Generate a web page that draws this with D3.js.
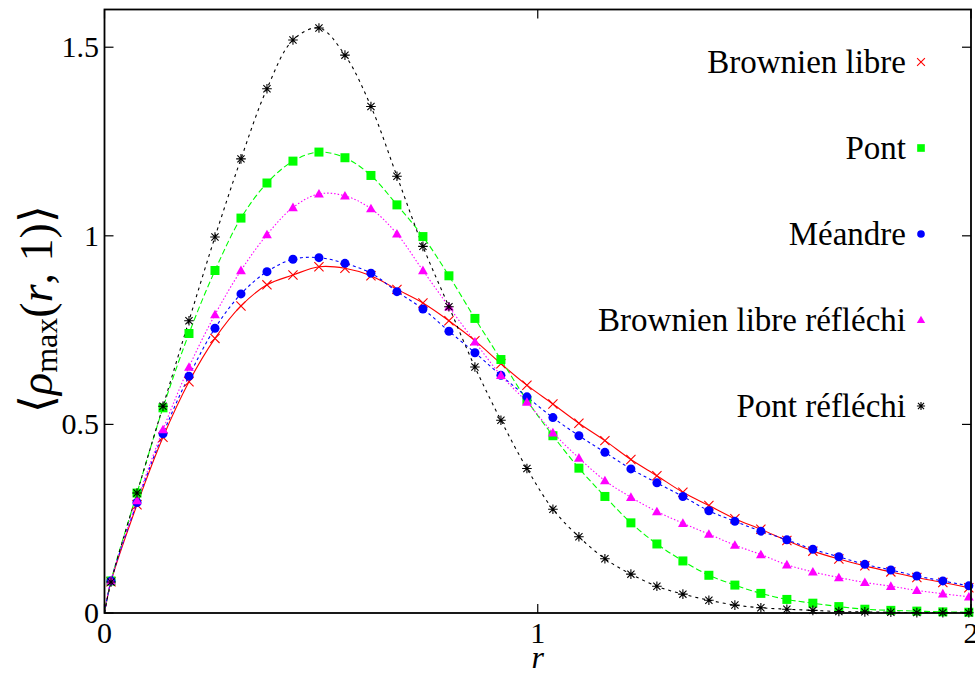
<!DOCTYPE html>
<html>
<head>
<meta charset="utf-8">
<script src="https://cdn.jsdelivr.net/npm/d3@7"></script>
<style>
  html, body { margin: 0; padding: 0; background: #fff; }
</style>
</head>
<body>
<svg id="chart" width="975" height="675"></svg>
<script>
// ---------------- data ----------------
const rValues = [0.015,0.075,0.135,0.195,0.255,0.315,0.375,0.435,0.495,0.555,0.615,0.675,0.735,0.795,0.855,0.915,0.975,1.035,1.095,1.155,1.215,1.275,1.335,1.395,1.455,1.515,1.575,1.635,1.695,1.755,1.815,1.875,1.935,1.995];
const curveStartR = 0;
const curveStartRho = 0;

const brownienLibre = [0.083,0.287,0.466,0.613,0.728,0.814,0.870,0.896,0.918,0.914,0.894,0.858,0.822,0.775,0.722,0.661,0.604,0.554,0.503,0.457,0.407,0.364,0.320,0.285,0.250,0.222,0.192,0.164,0.143,0.125,0.109,0.094,0.081,0.067];
const pont = [0.085,0.318,0.544,0.741,0.908,1.047,1.140,1.198,1.222,1.207,1.160,1.082,0.998,0.894,0.781,0.672,0.564,0.470,0.384,0.309,0.239,0.183,0.138,0.100,0.074,0.052,0.036,0.026,0.017,0.010,0.007,0.005,0.003,0.002];
const meandre = [0.085,0.293,0.475,0.628,0.755,0.846,0.905,0.938,0.942,0.927,0.901,0.852,0.806,0.747,0.690,0.630,0.573,0.518,0.470,0.426,0.382,0.345,0.309,0.271,0.243,0.217,0.194,0.169,0.149,0.129,0.114,0.098,0.085,0.072];
const brownienReflechi = [0.085,0.298,0.486,0.652,0.791,0.908,1.003,1.075,1.111,1.106,1.072,1.005,0.908,0.812,0.719,0.630,0.559,0.478,0.411,0.351,0.307,0.269,0.238,0.209,0.180,0.155,0.128,0.109,0.094,0.081,0.071,0.060,0.051,0.043];
const pontReflechi = [0.082,0.318,0.548,0.775,0.997,1.204,1.390,1.519,1.551,1.479,1.343,1.158,0.972,0.812,0.652,0.511,0.383,0.275,0.202,0.144,0.103,0.071,0.050,0.034,0.021,0.014,0.010,0.007,0.004,0.003,0.002,0.001,0.001,0.0005];

const seriesNames = ["Brownien libre", "Pont", "Méandre", "Brownien libre réfléchi", "Pont réfléchi"];
const xTicks = [0, 1, 2];
const xTickLabels = ["0", "1", "2"];
const yTicks = [0, 0.5, 1, 1.5];
const yTickLabels = ["0", "0.5", "1", "1.5"];

// ---------------- styles ----------------
const seriesData = [brownienLibre, pont, meandre, brownienReflechi, pontReflechi];
const colors = ["#ff0000", "#00ff00", "#0000ff", "#ff00ff", "#000000"];
const dashes = [null, "6,3", "3,3", "1.5,2", "3,4"];
const markers = ["x", "square", "circle", "triangle", "asterisk"];
const FONT = "Liberation Serif";

const svg = d3.select("#chart");
const pLeft = 104.5, pRight = 971, pTop = 9.5, pBottom = 613;

const x = d3.scaleLinear().domain([0, 2]).range([pLeft, pRight]);
const y = d3.scaleLinear().domain([0, 1.6]).range([pBottom, pTop]);

function addText(parent) {
  return parent.append("text").attr("font-family", FONT).attr("fill", "#000");
}

function markerPath(type, s) {
  const p = d3.path();
  if (type === "x") {
    p.moveTo(-s, -s); p.lineTo(s, s); p.moveTo(-s, s); p.lineTo(s, -s);
  } else if (type === "square") {
    p.rect(-s, -s, 2 * s, 2 * s);
  } else if (type === "circle") {
    p.arc(0, 0, s, 0, 2 * Math.PI);
  } else if (type === "triangle") {
    p.moveTo(0, -s); p.lineTo(s, s * 0.75); p.lineTo(-s, s * 0.75); p.closePath();
  } else if (type === "asterisk") {
    p.moveTo(-s, 0); p.lineTo(s, 0); p.moveTo(0, -s); p.lineTo(0, s);
    const d = s * 0.75;
    p.moveTo(-d, -d); p.lineTo(d, d); p.moveTo(-d, d); p.lineTo(d, -d);
  }
  return p.toString();
}
const markerSize = { x: 4.6, square: 4.5, circle: 4.5, triangle: 4.9, asterisk: 4.8 };
const filled = { x: false, square: true, circle: true, triangle: true, asterisk: false };

const plot = svg.append("g");
const clipId = "plotclip";
svg.append("clipPath").attr("id", clipId).append("rect")
  .attr("x", pLeft).attr("y", pTop).attr("width", pRight - pLeft).attr("height", pBottom - pTop);

const line = d3.line().x(d => x(d[0])).y(d => y(d[1])).curve(d3.curveCatmullRom.alpha(0.5));

seriesData.forEach((vals, i) => {
  const pts = [[curveStartR, curveStartRho]].concat(rValues.map((r, k) => [r, vals[k]]));
  plot.append("path")
    .attr("d", line(pts))
    .attr("fill", "none")
    .attr("stroke", colors[i])
    .attr("stroke-width", 1.1)
    .attr("stroke-dasharray", dashes[i])
    .attr("clip-path", `url(#${clipId})`);
});

seriesData.forEach((vals, i) => {
  const m = markers[i];
  plot.append("g").selectAll("path")
    .data(rValues.map((r, k) => [r, vals[k]]))
    .join("path")
    .attr("transform", d => `translate(${x(d[0])},${y(d[1])})`)
    .attr("d", markerPath(m, markerSize[m]))
    .attr("fill", filled[m] ? colors[i] : "none")
    .attr("stroke", colors[i])
    .attr("stroke-width", filled[m] ? 0 : 1.1);
});

// frame
svg.append("rect")
  .attr("x", pLeft).attr("y", pTop).attr("width", pRight - pLeft).attr("height", pBottom - pTop)
  .attr("fill", "none").attr("stroke", "#000").attr("stroke-width", 1.8);

// ticks (inward, all four sides)
const tl = 9;
const axisG = svg.append("g").attr("stroke", "#000").attr("stroke-width", 1.2);
xTicks.forEach(t => {
  axisG.append("line").attr("x1", x(t)).attr("x2", x(t)).attr("y1", pBottom).attr("y2", pBottom - tl);
  axisG.append("line").attr("x1", x(t)).attr("x2", x(t)).attr("y1", pTop).attr("y2", pTop + tl);
});
yTicks.forEach(t => {
  axisG.append("line").attr("x1", pLeft).attr("x2", pLeft + tl).attr("y1", y(t)).attr("y2", y(t));
  axisG.append("line").attr("x1", pRight).attr("x2", pRight - tl).attr("y1", y(t)).attr("y2", y(t));
});

// tick labels
xTicks.forEach((t, i) => {
  addText(svg).attr("x", x(t)).attr("y", 643)
    .attr("text-anchor", "middle").attr("font-size", 30).text(xTickLabels[i]);
});
yTicks.forEach((t, i) => {
  addText(svg).attr("x", 99).attr("y", y(t) + 10)
    .attr("text-anchor", "end").attr("font-size", 30).text(yTickLabels[i]);
});

// axis titles
addText(svg).attr("x", x(1)).attr("y", 668)
  .attr("text-anchor", "middle").attr("font-size", 32).attr("font-style", "italic").text("r");

const yl = addText(svg)
  .attr("transform", "translate(52,309) rotate(-90)")
  .attr("text-anchor", "middle").attr("font-size", 46);
yl.append("tspan").text("⟨");
yl.append("tspan").attr("font-style", "italic").text("ρ");
yl.append("tspan").attr("font-size", 32).attr("dy", 5).text("max");
yl.append("tspan").attr("dy", -5).text("(");
yl.append("tspan").attr("font-style", "italic").text("r");
yl.append("tspan").text(", 1)⟩");

// legend
const legY0 = 62, legStep = 86;
seriesNames.forEach((name, i) => {
  const yy = legY0 + i * legStep;
  addText(svg).attr("x", 906).attr("y", yy + 11)
    .attr("text-anchor", "end").attr("font-size", 33).text(name);
  const m = markers[i];
  svg.append("path")
    .attr("transform", `translate(921,${yy})`)
    .attr("d", markerPath(m, markerSize[m] * 0.85))
    .attr("fill", filled[m] ? colors[i] : "none")
    .attr("stroke", colors[i])
    .attr("stroke-width", filled[m] ? 0 : 1.1);
});
</script>
</body>
</html>
